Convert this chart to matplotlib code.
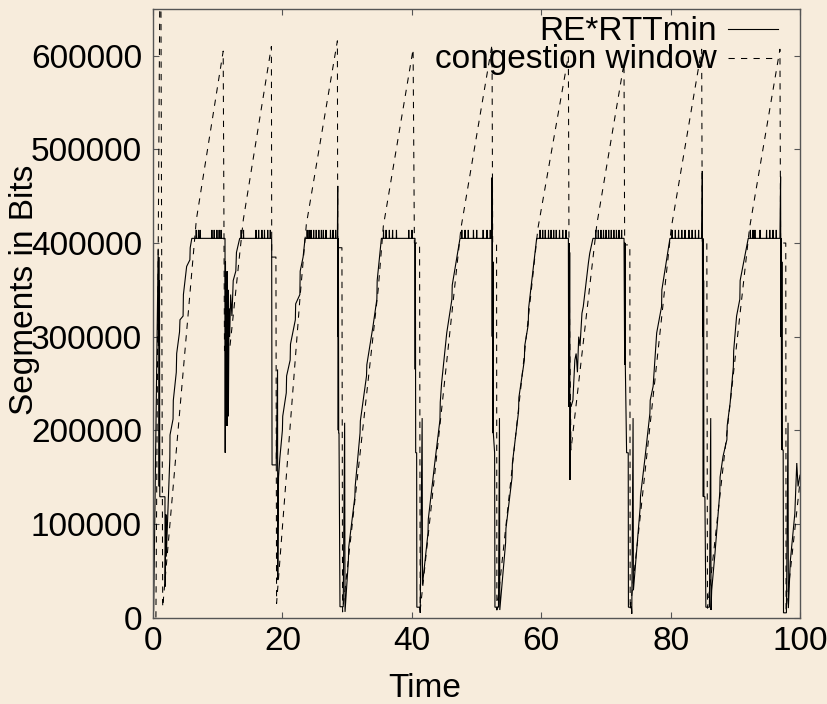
import numpy as np
import matplotlib
matplotlib.use('Agg')
import matplotlib.pyplot as plt

BG = '#F7ECDC'
FONT = 'Liberation Sans'

x_ticks = [0, 20, 40, 60, 80, 100]
y_ticks = [0, 100000, 200000, 300000, 400000, 500000, 600000]

# RE*RTTmin (solid): vertices, plateaus at 405000
re_time = [
    0.0, 0.1, 0.8, 0.85, 0.9, 0.95, 1.0, 1.05, 1.85, 1.87, 2.0, 2.05, 2.6, 2.63,
    3.1, 3.14, 3.6, 3.66, 4.1, 4.17, 4.65, 4.7, 5.2, 5.7, 5.75, 6.0, 11.13,
    11.16, 11.2, 11.25, 11.3, 11.35, 11.45, 11.5, 11.6, 11.65, 11.75, 11.85, 12.0,
    12.2, 12.4, 12.8, 12.9, 13.4, 18.34,
    18.4, 19.05, 19.25, 19.28, 19.4, 19.6, 20.0, 20.05, 20.6, 20.65, 21.2, 21.25,
    22.0, 22.05, 22.7, 22.75, 23.2, 23.5, 28.5,
    28.55, 28.58, 28.6, 28.63, 28.66, 28.7, 28.75, 28.9, 29.4, 29.62, 29.68, 30.2,
    30.25, 31.2, 31.25, 32.0, 32.05, 33.0, 33.05, 34.0, 34.6, 34.65, 35.3, 40.5,
    40.52, 40.55, 40.58, 40.6, 40.75, 40.78, 41.25, 41.3, 41.6, 41.65, 42.5, 42.55,
    43.6, 44.35, 44.4, 44.6, 45.4, 46.2, 46.25, 47.45, 52.35,
    52.4, 52.43, 52.46, 52.5, 52.55, 52.6, 52.8, 52.85, 53.4, 53.55, 53.6, 54.5,
    54.55, 55.5, 55.55, 56.5, 56.55, 57.4, 57.45, 58.0, 58.05, 59.3, 64.2,
    64.25, 64.3, 64.35, 64.4, 64.45, 64.5, 64.6, 64.9, 65.2, 65.4, 65.6, 65.8,
    66.0, 66.3, 66.5, 66.8, 67.3, 67.5, 68.0, 72.8,
    72.9, 72.95, 73.0, 73.2, 73.45, 73.48, 73.95, 74.0, 74.2, 74.25, 75.3, 75.35,
    76.0, 76.8, 76.85, 77.3, 77.85, 78.6, 78.65, 79.9, 84.8,
    84.9, 84.95, 85.0, 85.05, 85.1, 85.15, 85.3, 85.45, 86.0, 86.2, 86.25, 86.35,
    86.86, 87.6, 87.65, 88.1, 88.7, 88.75, 89.2, 89.7, 89.75, 90.2, 90.7, 90.75,
    92.0, 96.9,
    97.0, 97.05, 97.1, 97.15, 97.2, 97.25, 97.4, 97.45, 97.9, 98.15, 98.2, 98.5,
    99.2, 99.5, 99.7, 100.0,
]
re_bits = [
    0, 8000, 393000, 290000, 385000, 140000, 360000, 129000, 129000, 33000, 110000,
    65000, 170000, 195000, 212000, 232000, 262000, 282000, 305000, 318000, 322000,
    345000, 375000, 382000, 395000, 405000, 405000,
    176000, 380000, 230000, 360000, 205000, 370000, 205000, 350000, 215000, 330000,
    300000, 345000, 322000, 360000, 370000, 390000, 405000, 405000,
    163000, 163000, 265000, 40000, 150000, 170000, 200000, 215000, 240000, 258000,
    275000, 292000, 318000, 335000, 345000, 370000, 385000, 405000, 405000,
    461000, 300000, 405000, 200000, 380000, 197000, 197000, 11500, 11500, 208000,
    6000, 61000, 75000, 129000, 140000, 197000, 210000, 258000, 270000, 311000,
    340000, 360000, 405000, 405000,
    265000, 400000, 265000, 176000, 176000, 11000, 11000, 5000, 213000, 35000,
    90000, 105000, 168000, 211000, 230000, 250000, 304000, 340000, 355000, 405000,
    405000,
    470000, 300000, 405000, 197000, 380000, 197000, 176000, 11000, 11000, 213000,
    8000, 80000, 95000, 150000, 165000, 220000, 235000, 275000, 290000, 313000,
    330000, 405000, 405000,
    225000, 400000, 225000, 390000, 147000, 230000, 225000, 232000, 275000, 282000,
    262000, 300000, 290000, 325000, 332000, 350000, 379000, 389000, 405000, 405000,
    270000, 400000, 270000, 176000, 176000, 11000, 11000, 4000, 213000, 29000,
    118000, 130000, 168000, 218000, 232000, 247000, 304000, 332000, 350000, 405000,
    405000,
    477000, 300000, 405000, 129000, 360000, 129000, 129000, 11000, 11000, 213000,
    8000, 29000, 68700, 133000, 150000, 172000, 190000, 205000, 229000, 268000,
    285000, 322000, 340000, 360000, 405000, 405000,
    471000, 300000, 405000, 179000, 380000, 179000, 179000, 5000, 5000, 208000,
    10000, 60000, 111000, 165000, 140000, 152000,
]

# small upward ticks on the 405000 plateaus
plateau_level = 405000
spike_top = 414000
spike_times = [
    6.65, 7.0, 7.26, 9.07, 9.43, 9.84, 10.2, 10.5,
    13.6, 13.96, 15.9, 16.3, 16.8, 17.2, 17.7, 18.1,
    23.8, 24.1, 24.4, 24.8, 25.2, 25.6, 26.0, 26.3, 26.7, 27.4, 27.8, 28.2,
    35.6, 36.0, 36.5, 37.0, 37.6, 39.5, 40.0,
    47.7, 48.2, 48.7, 49.5, 50.0, 51.0, 51.6, 52.1,
    59.8, 60.2, 60.6, 61.1, 61.5, 61.9, 62.3, 62.8, 63.3, 63.8,
    68.4, 68.8, 69.2, 69.6, 70.0, 70.4, 70.8, 71.2, 71.6, 72.0, 72.4,
    80.2, 80.7, 81.2, 81.7, 82.2, 82.8, 83.3, 83.8, 84.3,
    92.3, 92.7, 93.0, 93.8, 94.8, 95.3, 95.8, 96.3,
]

# congestion window (dashed)
cwnd_time = [
    0.45, 1.1, 1.2, 1.5, 4.0, 6.7, 10.85, 11.05, 11.9, 13.96, 18.3, 18.35, 19.0,
    19.1, 22.7, 23.7, 28.5, 28.55, 29.2, 29.3, 34.8, 35.6, 40.2, 40.4, 41.2, 41.3,
    47.6, 52.4, 52.5, 53.1, 53.15, 59.5, 64.2, 64.3, 64.6, 68.6, 72.8, 72.9, 73.7,
    73.75, 80.1, 84.8, 84.9, 85.6, 85.7, 92.2, 96.9, 97.0, 97.8, 97.85, 100.0,
]
cwnd_bits = [
    0, 720000, 720000, 11000, 210000, 425000, 605000, 285000, 290000, 425000,
    610000, 385000, 385000, 15000, 340000, 420000, 616000, 395000, 395000, 6000,
    350000, 418000, 607000, 400000, 400000, 8000, 416000, 612000, 400000, 400000,
    8000, 416000, 600000, 382000, 179000, 420000, 592000, 398000, 398000, 8000,
    416000, 607000, 400000, 400000, 10000, 416000, 607000, 400000, 400000, 8000,
    145000,
]

# merge the plateau ticks into the solid series
st = list(re_time)
sv = list(re_bits)
for t in spike_times:
    st += [t, t + 0.03, t + 0.06]
    sv += [plateau_level, spike_top, plateau_level]
order = np.argsort(np.array(st), kind='stable')
re_t = np.array(st)[order]
re_v = np.array(sv)[order]

fig = plt.figure(figsize=(8.28, 7.04), dpi=100, facecolor=BG)
ax = fig.add_axes([153 / 828, 1 - 617.5 / 704, 647 / 828, 608.5 / 704])
ax.set_facecolor(BG)

ax.plot(re_t, re_v, color='black', lw=0.8, solid_joinstyle='miter')
ax.plot(cwnd_time, cwnd_bits, color='black', lw=0.75, linestyle=(0, (6, 6)))

ax.set_xlim(0, 100)
ax.set_ylim(0, 650000)
ax.set_xticks(x_ticks)
ax.set_xticklabels([str(v) for v in x_ticks], fontsize=24, family=FONT)
ax.set_yticks(y_ticks)
ax.set_yticklabels([str(v) for v in y_ticks], fontsize=24, family=FONT)
ax.tick_params(direction='in', top=True, right=True, length=4.5, width=0.8,
               color='#555555')
ax.tick_params(axis='x', pad=6)
ax.tick_params(axis='y', pad=8)
for s in ax.spines.values():
    s.set_color('#555555')
    s.set_linewidth(1.0)

# gnuplot-style key, text to the left of the sample
ax.text(0.872, 0.949, 'RE*RTTmin', transform=ax.transAxes, ha='right',
        va='baseline', fontsize=24, family=FONT)
ax.text(0.872, 0.9025, 'congestion window', transform=ax.transAxes, ha='right',
        va='baseline', fontsize=24, family=FONT)
ax.plot([0.889, 0.966], [0.9666, 0.9666], transform=ax.transAxes, color='black',
        lw=0.8)
ax.plot([0.889, 0.966], [0.919, 0.919], transform=ax.transAxes, color='black',
        lw=0.75, linestyle=(0, (6, 6)))

fig.text(425 / 828, 1 - 697 / 704, 'Time', ha='center', va='baseline',
         fontsize=24, family=FONT)
fig.text(25 / 828, 1 - 290 / 704, 'Segments in Bits', rotation=90, ha='center',
         va='center', fontsize=24, family=FONT)

fig.savefig('out.png', dpi=100, facecolor=BG)
